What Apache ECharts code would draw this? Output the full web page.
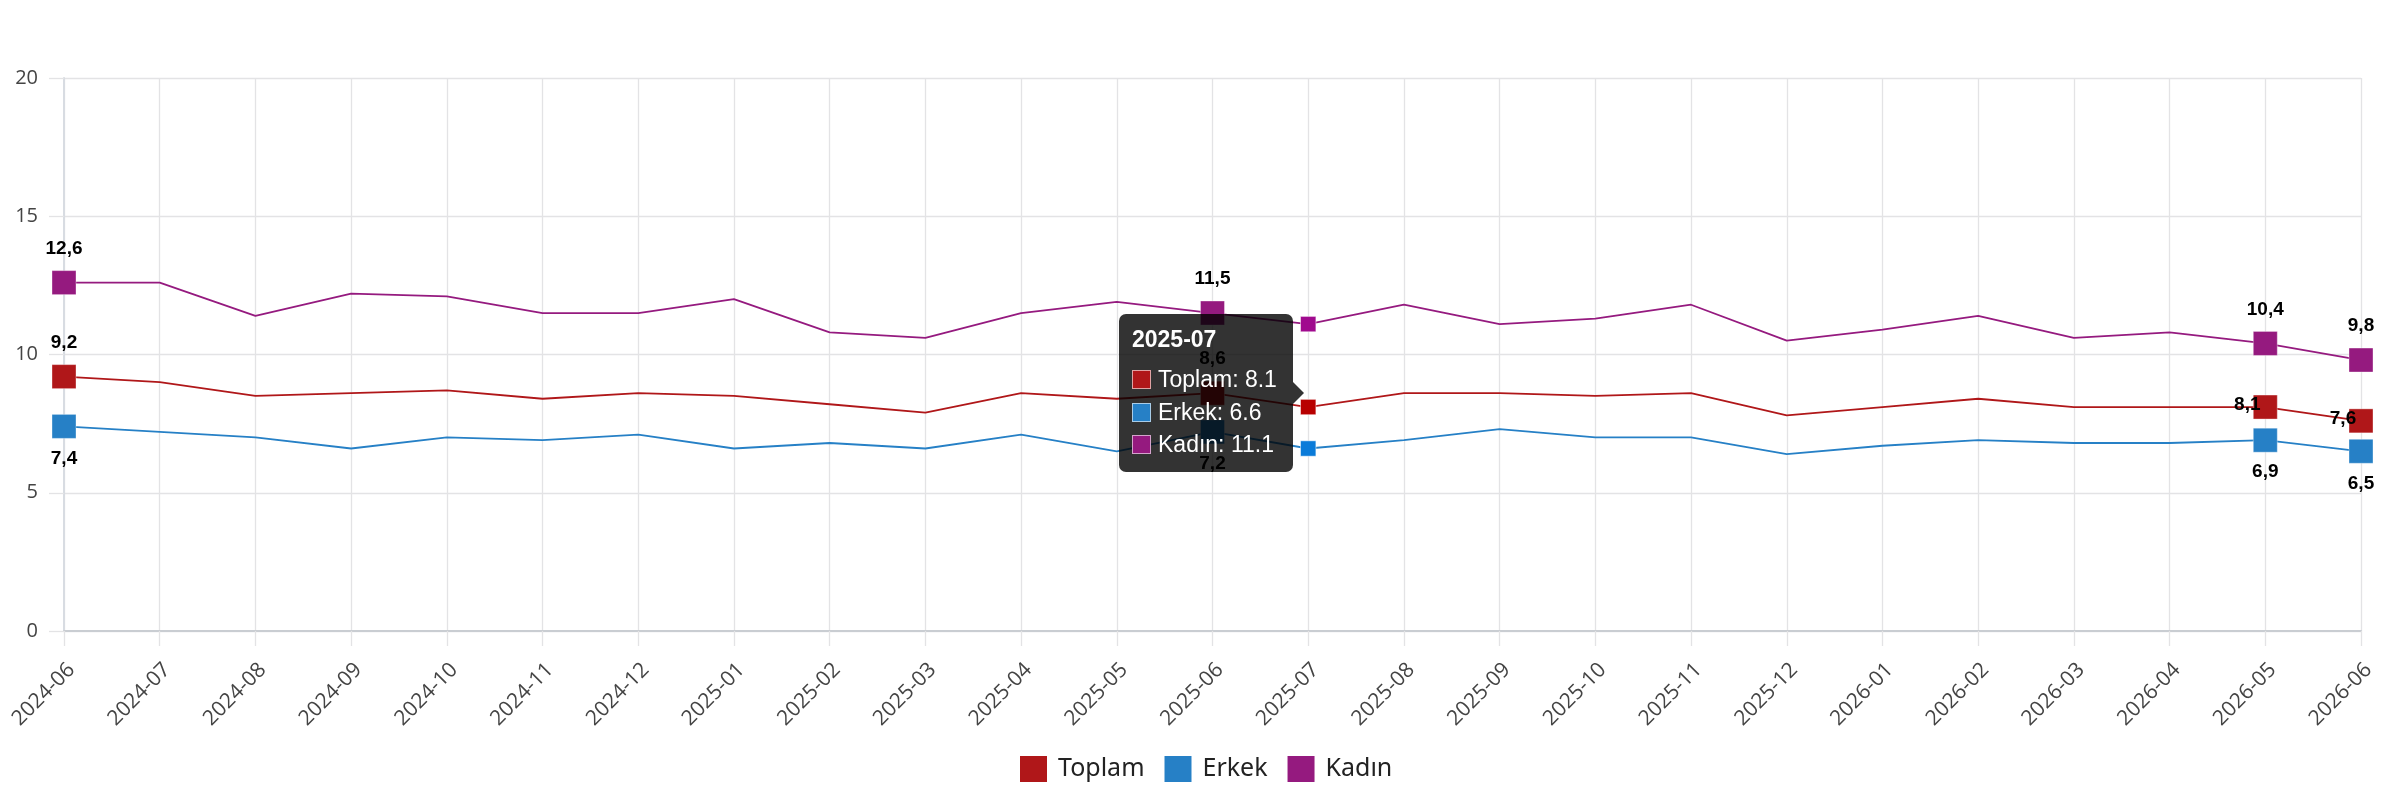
<!DOCTYPE html>
<html>
<head>
<meta charset="utf-8">
<script src="https://cdn.jsdelivr.net/npm/echarts@6/dist/echarts.min.js"></script>
<style>
html,body{margin:0;padding:0;background:#fff;}
#chart{width:2384px;height:800px;}
</style>
</head>
<body>
<div id="chart"></div>
<script>
var categories = ['2024-06','2024-07','2024-08','2024-09','2024-10','2024-11','2024-12','2025-01','2025-02','2025-03','2025-04','2025-05','2025-06','2025-07','2025-08','2025-09','2025-10','2025-11','2025-12','2026-01','2026-02','2026-03','2026-04','2026-05','2026-06'];
var toplam = [9.2, 9.0, 8.5, 8.6, 8.7, 8.4, 8.6, 8.5, 8.2, 7.9, 8.6, 8.4, 8.6, 8.1, 8.6, 8.6, 8.5, 8.6, 7.8, 8.1, 8.4, 8.1, 8.1, 8.1, 7.6];
var erkek  = [7.4, 7.2, 7.0, 6.6, 7.0, 6.9, 7.1, 6.6, 6.8, 6.6, 7.1, 6.5, 7.2, 6.6, 6.9, 7.3, 7.0, 7.0, 6.4, 6.7, 6.9, 6.8, 6.8, 6.9, 6.5];
var kadin  = [12.6, 12.6, 11.4, 12.2, 12.1, 11.5, 11.5, 12.0, 10.8, 10.6, 11.5, 11.9, 11.5, 11.1, 11.8, 11.1, 11.3, 11.8, 10.5, 10.9, 11.4, 10.6, 10.8, 10.4, 9.8];
var seriesNames = ['Toplam', 'Erkek', 'Kadın'];
var yTicks = [0, 5, 10, 15, 20];

var labeledIdx = [0, 12, 23, 24];
var hoverIdx = 13;
var colors = ['#B01719', '#2680C6', '#951A7F'];
var hoverColors = ['#B80000', '#0A7BD9', '#A00A8E'];

function labelCfg(si, i) {
  var base = {show: true, fontFamily: '"Liberation Sans", Arial, sans-serif', fontWeight: 'bold', fontSize: 19, color: '#000',
    formatter: function (p) { return String(p.value).replace('.', ','); }};
  if (si === 2) { base.position = 'top'; base.distance = 12; }
  else if (si === 1) { base.position = 'bottom'; base.distance = 10; }
  else {
    if (i >= 23) { base.position = 'inside'; base.offset = [-18, -2]; }
    else { base.position = 'top'; base.distance = 12; }
  }
  return base;
}

function buildData(values, si) {
  return values.map(function (v, i) {
    if (labeledIdx.indexOf(i) >= 0) {
      return {value: v, symbol: 'rect', symbolSize: 24,
        itemStyle: {color: colors[si], borderColor: 'rgba(255,255,255,0.35)', borderWidth: 1},
        label: labelCfg(si, i)};
    }
    if (i === hoverIdx) {
      return {value: v, symbol: 'rect', symbolSize: 14,
        itemStyle: {color: hoverColors[si], borderColor: 'rgba(255,255,255,0.5)', borderWidth: 1}};
    }
    return {value: v, symbol: 'none'};
  });
}

var allValues = [toplam, erkek, kadin];
var chart = echarts.init(document.getElementById('chart'), null, {renderer: 'canvas'});

var gridColor = '#e3e3e5';
var option = {
  animation: false,
  grid: {left: 64, right: 23, top: 78, bottom: 169, containLabel: false},
  legend: {
    data: seriesNames.map(function (n, i) { return {name: n, itemStyle: {color: colors[i]}}; }),
    left: 1015, top: 751, icon: 'rect', itemWidth: 27, itemHeight: 26, itemGap: 20,
    textStyle: {fontFamily: '"Noto Sans", sans-serif', fontSize: 25, color: '#222', padding: [0, 0, 0, 6]}
  },
  tooltip: {
    trigger: 'axis',
    alwaysShowContent: true,
    transitionDuration: 0,
    axisPointer: {type: 'none'},
    backgroundColor: 'rgba(0,0,0,0.8)',
    borderWidth: 0,
    padding: 0,
    extraCssText: 'border-radius:7px;box-shadow:none;overflow:visible;',
    formatter: function (params) {
      var idx = params[0].dataIndex;
      var h = '<div style="position:relative;padding:12px 16px 11px 13px;font-family:\'Liberation Sans\',Arial,sans-serif;color:#fff;">';
      h += '<div style="font-weight:bold;font-size:23px;line-height:26px;margin-bottom:11px;">' + categories[idx] + '</div>';
      for (var s = 0; s < seriesNames.length; s++) {
        h += '<div style="font-size:23px;line-height:32.5px;white-space:nowrap;">' +
          '<span style="display:inline-block;width:17px;height:17px;background:' + colors[s] + ';border:1px solid rgba(255,255,255,0.6);vertical-align:-2px;margin-right:7px;"></span>' +
          seriesNames[s] + ': ' + allValues[s][idx] + '</div>';
      }
      h += '<div style="position:absolute;right:-11px;top:50%;margin-top:-11px;width:0;height:0;border-top:11px solid transparent;border-bottom:11px solid transparent;border-left:11px solid rgba(0,0,0,0.8);"></div>';
      h += '</div>';
      return h;
    },
    position: function (point, params, dom, rect, size) {
      var idx = params[0].dataIndex;
      var sum = 0;
      for (var s = 0; s < allValues.length; s++) sum += allValues[s][idx];
      var p = chart.convertToPixel({gridIndex: 0}, [idx, sum / allValues.length]);
      return [p[0] - size.contentSize[0] - 15, p[1] - size.contentSize[1] / 2];
    }
  },
  xAxis: {
    type: 'category',
    data: categories,
    boundaryGap: false,
    axisLine: {show: true, lineStyle: {color: '#c9cdd2', width: 2}},
    axisTick: {show: true, length: 15, interval: 0, lineStyle: {color: gridColor, width: 1.3}},
    splitLine: {show: true, interval: 0, lineStyle: {color: gridColor, width: 1.3}},
    axisLabel: {interval: 0, rotate: 45, margin: 28, verticalAlign: 'top', fontFamily: '"Open Sans", sans-serif', fontSize: 21, color: '#444'}
  },
  yAxis: {
    type: 'value',
    min: 0, max: 20, interval: 5,
    axisLine: {show: true, lineStyle: {color: '#d8dce2', width: 2}},
    axisTick: {show: true, length: 15, lineStyle: {color: gridColor, width: 1.3}},
    splitLine: {show: true, lineStyle: {color: gridColor, width: 1.3}},
    axisLabel: {margin: 26, fontFamily: '"Open Sans", sans-serif', fontSize: 20, color: '#444',
      formatter: function (v) { return yTicks.indexOf(v) >= 0 ? String(v) : ''; }}
  },
  series: seriesNames.map(function (n, si) {
    return {
      name: n, type: 'line', data: buildData(allValues[si], si),
      showSymbol: true, showAllSymbol: true,
      lineStyle: {color: colors[si], width: 1.8},
      itemStyle: {color: colors[si]},
      emphasis: {disabled: true},
      z: 3 - si
    };
  })
};
chart.setOption(option);
chart.dispatchAction({type: 'showTip', seriesIndex: 0, dataIndex: hoverIdx});
</script>
</body>
</html>
